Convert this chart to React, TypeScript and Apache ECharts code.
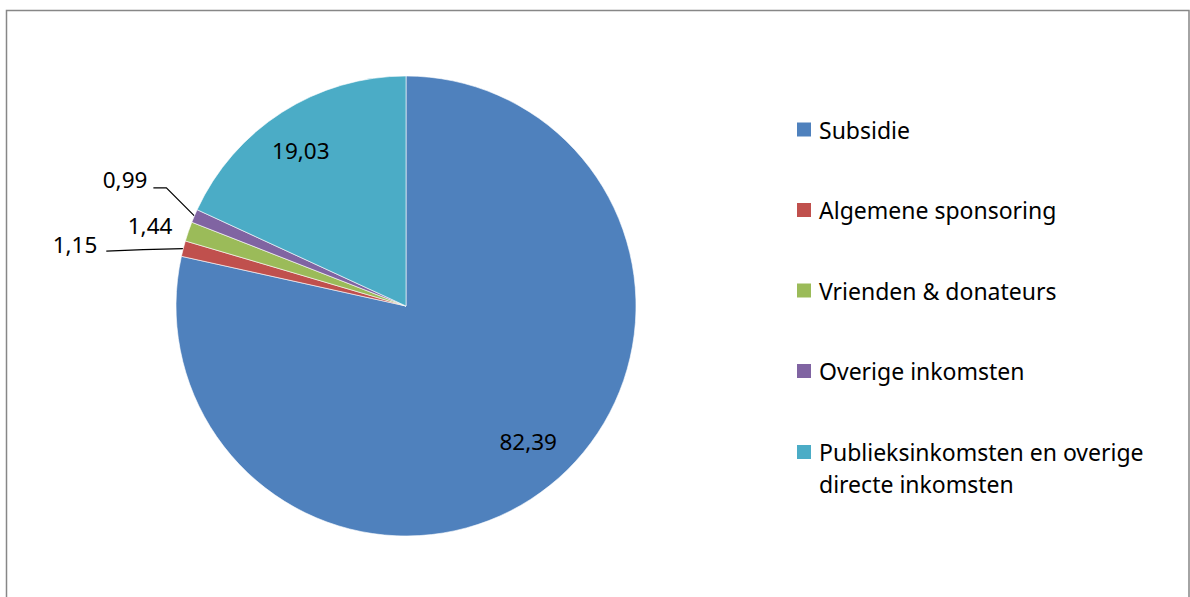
import React, { useEffect, useRef } from 'react';
import * as echarts from 'echarts';

// ---- data ----
const categories = [
  'Subsidie',
  'Algemene sponsoring',
  'Vrienden & donateurs',
  'Overige inkomsten',
  'Publieksinkomsten en overige directe inkomsten',
];
const values = [82.39, 1.15, 1.44, 0.99, 19.03];

// ---- style ----
const colors = ['#4F81BD', '#C0504D', '#9BBB59', '#8064A2', '#4BACC6'];
const W = 1190;
const H = 597;
const CX = 406;
const CY = 306;
const R = 230;
const FONT = 'Noto Sans';
const insideRatio = 0.8;
// small nudges (px) for the inside labels
const insideStyle: Record<number, [number, number]> = { 0: [7, -8], 4: [-6, -1] };
// offsets (px) of outside labels / leader lines relative to the slice's outer mid point
const outsideStyle: Record<number, { label: [number, number]; line?: [number, number][] }> = {
  1: { label: [-86, -4], line: [[-40, 1], [-77, 2.5]] },
  2: { label: [-16, -6] },
  3: { label: [-47, -36], line: [[-28, -28], [-41, -28]] },
};

const fmt = (v: number) => v.toFixed(2).replace('.', ',');

function midAngle(i: number) {
  const total = values.reduce((a, b) => a + b, 0);
  let cum = 0;
  for (let k = 0; k < i; k++) cum += values[k];
  return (2 * Math.PI * (cum + values[i] / 2)) / total;
}

function wrapLegend(name: string) {
  return name.replace(' directe', '\ndirecte');
}

export default function App() {
  const ref = useRef<HTMLDivElement>(null);
  useEffect(() => {
    if (!ref.current) return;
    const chart = echarts.init(ref.current, undefined, { renderer: 'svg' });
    const legendText = { fontFamily: FONT, fontSize: 23, color: '#000', padding: [0, 0, 0, 3] };
    const legendBase = {
      orient: 'vertical',
      left: 797,
      padding: 0,
      icon: 'rect',
      itemWidth: 14,
      itemHeight: 14,
      selectedMode: false,
      itemStyle: { borderWidth: 0 },
    };
    chart.setOption({
      animation: false,
      backgroundColor: '#fff',
      graphic: [
        {
          type: 'rect',
          silent: true,
          shape: { x: 6.5, y: 10.5, width: 1182.5, height: 700 },
          style: { fill: 'none', stroke: '#878787', lineWidth: 1.5 },
        },
      ],
      legend: [
        {
          ...legendBase,
          top: 115.5,
          itemGap: 52.5,
          data: categories.slice(0, 4),
          textStyle: { ...legendText, lineHeight: 28 },
        },
        {
          ...legendBase,
          top: 404,
          data: [categories[4]],
          formatter: (n: string) => '\n' + wrapLegend(n),
          textStyle: { ...legendText, lineHeight: 32 },
        },
      ],
      series: [
        {
          type: 'pie',
          center: [CX, CY],
          radius: R,
          startAngle: 90,
          clockwise: true,
          avoidLabelOverlap: false,
          emphasis: { disabled: true },
          itemStyle: { borderColor: '#fff', borderWidth: 0.6 },
          label: {
            show: true,
            position: 'outside',
            color: '#000',
            fontFamily: FONT,
            fontSize: 22.5,
            formatter: (p: any) => fmt(p.value),
          },
          labelLine: { show: true, lineStyle: { color: '#000', width: 1.2 } },
          labelLayout: (p: any) => {
            const i = p.dataIndex;
            const a = midAngle(i);
            const sx = Math.sin(a);
            const sy = -Math.cos(a);
            if (insideStyle[i]) {
              return {
                x: CX + sx * R * insideRatio + insideStyle[i][0],
                y: CY + sy * R * insideRatio + insideStyle[i][1],
                align: 'center',
                verticalAlign: 'middle',
              };
            }
            const ex = CX + sx * R;
            const ey = CY + sy * R;
            const st = outsideStyle[i];
            const res: any = {
              x: ex + st.label[0],
              y: ey + st.label[1],
              align: 'right',
              verticalAlign: 'middle',
            };
            if (st.line) {
              res.labelLinePoints = [[ex, ey], ...st.line.map(([dx, dy]) => [ex + dx, ey + dy])];
            }
            return res;
          },
          data: categories.map((name, i) => ({
            name,
            value: values[i],
            itemStyle: { color: colors[i] },
            labelLine: { show: !!(outsideStyle[i] && outsideStyle[i].line) },
          })),
        },
      ],
    });
    return () => chart.dispose();
  }, []);
  return (
    <div
      ref={ref}
      style={{ position: 'absolute', left: 0, top: 0, width: W, height: H }}
    />
  );
}
